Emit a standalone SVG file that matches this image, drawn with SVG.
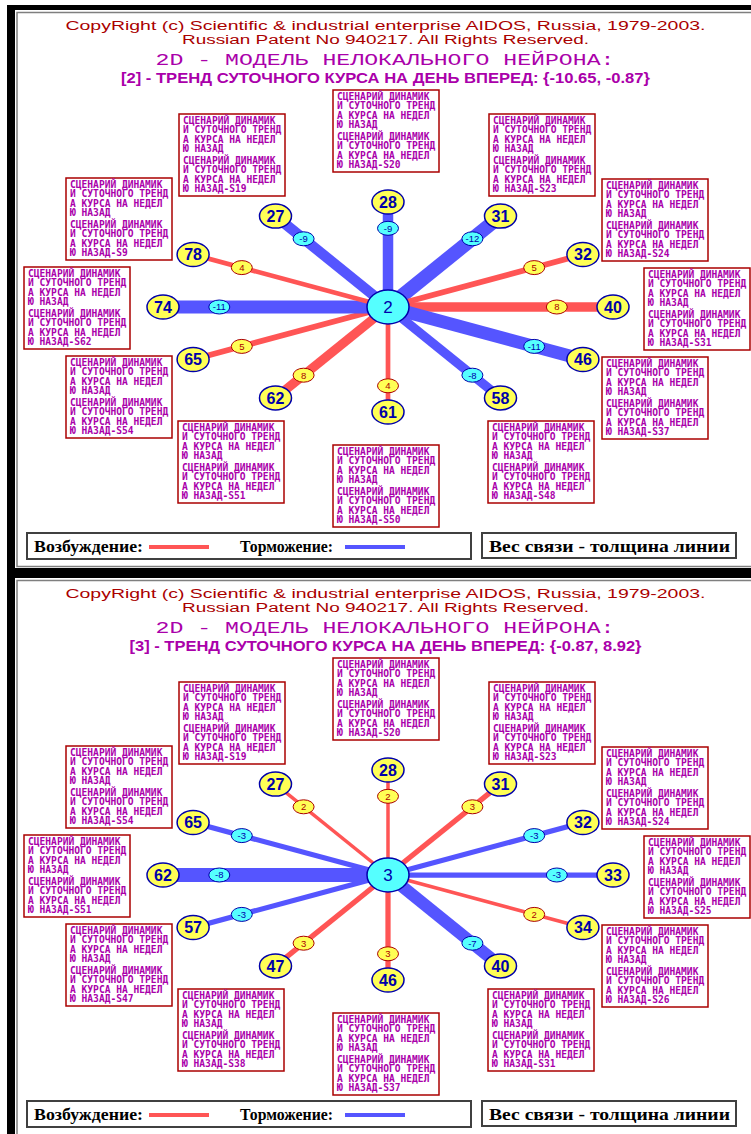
<svg xmlns="http://www.w3.org/2000/svg" width="751" height="1134" viewBox="0 0 751 1134">
<style>
.t1{font-family:"Liberation Sans",Arial,sans-serif;font-size:12.5px;fill:#AA0000;text-anchor:middle}
.t3{font-family:"Liberation Mono","Courier New",monospace;font-size:17px;fill:#AA00AA;text-anchor:middle}
.t4{font-family:"Liberation Sans",Arial,sans-serif;font-weight:bold;font-size:14px;fill:#AA00AA;text-anchor:middle}
.box rect{fill:#fff;stroke:#AA0000;stroke-width:1.5}
.bt{font-family:"DejaVu Sans Mono","Liberation Mono",monospace;font-weight:bold;font-size:9.6px;fill:#AA00AA}
.node ellipse{fill:#FFFF55;stroke:#0000AA;stroke-width:1.5}
.nt{font-family:"Liberation Sans",Arial,sans-serif;font-weight:bold;font-size:16px;fill:#0000AA;text-anchor:middle}
.ctr ellipse{fill:#55FFFF;stroke:#0000AA;stroke-width:1.5}
.ct{font-family:"Liberation Sans",Arial,sans-serif;font-size:17px;fill:#0000AA;text-anchor:middle}
.ex{stroke:#FF5555;fill:none}
.in{stroke:#5555FF;fill:none}
.wr{fill:#FFFF55;stroke:#AA0000;stroke-width:1}
.wb{fill:#55FFFF;stroke:#0000AA;stroke-width:1}
.wtr{font-family:"Liberation Sans",Arial,sans-serif;font-size:9.5px;fill:#AA0000;text-anchor:middle}
.wtb{font-family:"Liberation Sans",Arial,sans-serif;font-size:9.5px;fill:#0000AA;text-anchor:middle}
.lgb{fill:#fff;stroke:#404040;stroke-width:2}
.lg{font-family:"Liberation Serif","Times New Roman",serif;font-weight:bold;font-size:17px;fill:#000}
.fl{stroke:#7f7f7f;stroke-width:1.5;fill:none}
</style>
<rect width="751" height="1134" fill="#fff"/>
<g id="frames">
<rect x="7" y="5" width="744" height="1129" fill="#000"/>
<rect x="15" y="10" width="736" height="558" fill="#fff"/>
<polyline class="fl" points="751,12.5 17,12.5 17,566.5 751,566.5"/>
<rect x="15" y="578" width="736" height="556" fill="#fff"/>
<polyline class="fl" points="751,580.5 17,580.5 17,1134"/>
</g>

<g id="panel1">
<g id="p1-title">
<text class="t1" x="385.5" y="29.5" textLength="640" lengthAdjust="spacingAndGlyphs">CopyRight (c) Scientific &amp; industrial enterprise AIDOS, Russia, 1979-2003.</text>
<text class="t1" x="385.5" y="43.5" textLength="407" lengthAdjust="spacingAndGlyphs">Russian Patent No 940217. All Rights Reserved.</text>
<text class="t3" x="385" y="65" textLength="459" lengthAdjust="spacingAndGlyphs">2D - МОДЕЛЬ НЕЛОКАЛЬНОГО НЕЙРОНА:</text>
<text class="t4" x="385.5" y="82.7" textLength="529" lengthAdjust="spacingAndGlyphs">[2] - ТРЕНД СУТОЧНОГО КУРСА НА ДЕНЬ ВПЕРЕД: {-10.65, -0.87}</text>
</g>

<g id="p1-box-s20" class="box" transform="translate(333,90)"><rect width="106" height="82"/><text class="bt"><tspan x="4" y="10">СЦЕНАРИЙ ДИНАМИК</tspan><tspan x="4" y="19.4">И СУТОЧНОГО ТРЕНД</tspan><tspan x="4" y="28.8">А КУРСА НА НЕДЕЛ</tspan><tspan x="4" y="38.2">Ю НАЗАД</tspan><tspan x="4" y="50">СЦЕНАРИЙ ДИНАМИК</tspan><tspan x="4" y="59.4">И СУТОЧНОГО ТРЕНД</tspan><tspan x="4" y="68.8">А КУРСА НА НЕДЕЛ</tspan><tspan x="4" y="78.2">Ю НАЗАД-S20</tspan></text></g>
<g id="p1-box-s19" class="box" transform="translate(179,114)"><rect width="106" height="82"/><text class="bt"><tspan x="4" y="10">СЦЕНАРИЙ ДИНАМИК</tspan><tspan x="4" y="19.4">И СУТОЧНОГО ТРЕНД</tspan><tspan x="4" y="28.8">А КУРСА НА НЕДЕЛ</tspan><tspan x="4" y="38.2">Ю НАЗАД</tspan><tspan x="4" y="50">СЦЕНАРИЙ ДИНАМИК</tspan><tspan x="4" y="59.4">И СУТОЧНОГО ТРЕНД</tspan><tspan x="4" y="68.8">А КУРСА НА НЕДЕЛ</tspan><tspan x="4" y="78.2">Ю НАЗАД-S19</tspan></text></g>
<g id="p1-box-s23" class="box" transform="translate(489,114)"><rect width="106" height="82"/><text class="bt"><tspan x="4" y="10">СЦЕНАРИЙ ДИНАМИК</tspan><tspan x="4" y="19.4">И СУТОЧНОГО ТРЕНД</tspan><tspan x="4" y="28.8">А КУРСА НА НЕДЕЛ</tspan><tspan x="4" y="38.2">Ю НАЗАД</tspan><tspan x="4" y="50">СЦЕНАРИЙ ДИНАМИК</tspan><tspan x="4" y="59.4">И СУТОЧНОГО ТРЕНД</tspan><tspan x="4" y="68.8">А КУРСА НА НЕДЕЛ</tspan><tspan x="4" y="78.2">Ю НАЗАД-S23</tspan></text></g>
<g id="p1-box-s9" class="box" transform="translate(66,178)"><rect width="106" height="82"/><text class="bt"><tspan x="4" y="10">СЦЕНАРИЙ ДИНАМИК</tspan><tspan x="4" y="19.4">И СУТОЧНОГО ТРЕНД</tspan><tspan x="4" y="28.8">А КУРСА НА НЕДЕЛ</tspan><tspan x="4" y="38.2">Ю НАЗАД</tspan><tspan x="4" y="50">СЦЕНАРИЙ ДИНАМИК</tspan><tspan x="4" y="59.4">И СУТОЧНОГО ТРЕНД</tspan><tspan x="4" y="68.8">А КУРСА НА НЕДЕЛ</tspan><tspan x="4" y="78.2">Ю НАЗАД-S9</tspan></text></g>
<g id="p1-box-s24" class="box" transform="translate(602,179)"><rect width="106" height="82"/><text class="bt"><tspan x="4" y="10">СЦЕНАРИЙ ДИНАМИК</tspan><tspan x="4" y="19.4">И СУТОЧНОГО ТРЕНД</tspan><tspan x="4" y="28.8">А КУРСА НА НЕДЕЛ</tspan><tspan x="4" y="38.2">Ю НАЗАД</tspan><tspan x="4" y="50">СЦЕНАРИЙ ДИНАМИК</tspan><tspan x="4" y="59.4">И СУТОЧНОГО ТРЕНД</tspan><tspan x="4" y="68.8">А КУРСА НА НЕДЕЛ</tspan><tspan x="4" y="78.2">Ю НАЗАД-S24</tspan></text></g>
<g id="p1-box-s62" class="box" transform="translate(24,267)"><rect width="106" height="82"/><text class="bt"><tspan x="4" y="10">СЦЕНАРИЙ ДИНАМИК</tspan><tspan x="4" y="19.4">И СУТОЧНОГО ТРЕНД</tspan><tspan x="4" y="28.8">А КУРСА НА НЕДЕЛ</tspan><tspan x="4" y="38.2">Ю НАЗАД</tspan><tspan x="4" y="50">СЦЕНАРИЙ ДИНАМИК</tspan><tspan x="4" y="59.4">И СУТОЧНОГО ТРЕНД</tspan><tspan x="4" y="68.8">А КУРСА НА НЕДЕЛ</tspan><tspan x="4" y="78.2">Ю НАЗАД-S62</tspan></text></g>
<g id="p1-box-s31" class="box" transform="translate(644,268)"><rect width="106" height="82"/><text class="bt"><tspan x="4" y="10">СЦЕНАРИЙ ДИНАМИК</tspan><tspan x="4" y="19.4">И СУТОЧНОГО ТРЕНД</tspan><tspan x="4" y="28.8">А КУРСА НА НЕДЕЛ</tspan><tspan x="4" y="38.2">Ю НАЗАД</tspan><tspan x="4" y="50">СЦЕНАРИЙ ДИНАМИК</tspan><tspan x="4" y="59.4">И СУТОЧНОГО ТРЕНД</tspan><tspan x="4" y="68.8">А КУРСА НА НЕДЕЛ</tspan><tspan x="4" y="78.2">Ю НАЗАД-S31</tspan></text></g>
<g id="p1-box-s54" class="box" transform="translate(66,356)"><rect width="106" height="82"/><text class="bt"><tspan x="4" y="10">СЦЕНАРИЙ ДИНАМИК</tspan><tspan x="4" y="19.4">И СУТОЧНОГО ТРЕНД</tspan><tspan x="4" y="28.8">А КУРСА НА НЕДЕЛ</tspan><tspan x="4" y="38.2">Ю НАЗАД</tspan><tspan x="4" y="50">СЦЕНАРИЙ ДИНАМИК</tspan><tspan x="4" y="59.4">И СУТОЧНОГО ТРЕНД</tspan><tspan x="4" y="68.8">А КУРСА НА НЕДЕЛ</tspan><tspan x="4" y="78.2">Ю НАЗАД-S54</tspan></text></g>
<g id="p1-box-s37" class="box" transform="translate(602,357)"><rect width="106" height="82"/><text class="bt"><tspan x="4" y="10">СЦЕНАРИЙ ДИНАМИК</tspan><tspan x="4" y="19.4">И СУТОЧНОГО ТРЕНД</tspan><tspan x="4" y="28.8">А КУРСА НА НЕДЕЛ</tspan><tspan x="4" y="38.2">Ю НАЗАД</tspan><tspan x="4" y="50">СЦЕНАРИЙ ДИНАМИК</tspan><tspan x="4" y="59.4">И СУТОЧНОГО ТРЕНД</tspan><tspan x="4" y="68.8">А КУРСА НА НЕДЕЛ</tspan><tspan x="4" y="78.2">Ю НАЗАД-S37</tspan></text></g>
<g id="p1-box-s51" class="box" transform="translate(178,421)"><rect width="106" height="82"/><text class="bt"><tspan x="4" y="10">СЦЕНАРИЙ ДИНАМИК</tspan><tspan x="4" y="19.4">И СУТОЧНОГО ТРЕНД</tspan><tspan x="4" y="28.8">А КУРСА НА НЕДЕЛ</tspan><tspan x="4" y="38.2">Ю НАЗАД</tspan><tspan x="4" y="50">СЦЕНАРИЙ ДИНАМИК</tspan><tspan x="4" y="59.4">И СУТОЧНОГО ТРЕНД</tspan><tspan x="4" y="68.8">А КУРСА НА НЕДЕЛ</tspan><tspan x="4" y="78.2">Ю НАЗАД-S51</tspan></text></g>
<g id="p1-box-s48" class="box" transform="translate(488,421)"><rect width="106" height="82"/><text class="bt"><tspan x="4" y="10">СЦЕНАРИЙ ДИНАМИК</tspan><tspan x="4" y="19.4">И СУТОЧНОГО ТРЕНД</tspan><tspan x="4" y="28.8">А КУРСА НА НЕДЕЛ</tspan><tspan x="4" y="38.2">Ю НАЗАД</tspan><tspan x="4" y="50">СЦЕНАРИЙ ДИНАМИК</tspan><tspan x="4" y="59.4">И СУТОЧНОГО ТРЕНД</tspan><tspan x="4" y="68.8">А КУРСА НА НЕДЕЛ</tspan><tspan x="4" y="78.2">Ю НАЗАД-S48</tspan></text></g>
<g id="p1-box-s50" class="box" transform="translate(333,445)"><rect width="106" height="82"/><text class="bt"><tspan x="4" y="10">СЦЕНАРИЙ ДИНАМИК</tspan><tspan x="4" y="19.4">И СУТОЧНОГО ТРЕНД</tspan><tspan x="4" y="28.8">А КУРСА НА НЕДЕЛ</tspan><tspan x="4" y="38.2">Ю НАЗАД</tspan><tspan x="4" y="50">СЦЕНАРИЙ ДИНАМИК</tspan><tspan x="4" y="59.4">И СУТОЧНОГО ТРЕНД</tspan><tspan x="4" y="68.8">А КУРСА НА НЕДЕЛ</tspan><tspan x="4" y="78.2">Ю НАЗАД-S50</tspan></text></g>

<g id="p1-connectors">
<line class="in" x1="388" y1="307" x2="388" y2="202" stroke-width="10.5"/>
<line class="in" x1="388" y1="307" x2="500.5" y2="216.1" stroke-width="14"/>
<line class="ex" x1="388" y1="307" x2="582.9" y2="254.5" stroke-width="5.8"/>
<line class="ex" x1="388" y1="307" x2="613" y2="307" stroke-width="9.3"/>
<line class="in" x1="388" y1="307" x2="582.9" y2="359.5" stroke-width="12.8"/>
<line class="in" x1="388" y1="307" x2="500.5" y2="397.9" stroke-width="9.3"/>
<line class="ex" x1="388" y1="307" x2="388" y2="412" stroke-width="4.7"/>
<line class="ex" x1="388" y1="307" x2="275.5" y2="397.9" stroke-width="9.3"/>
<line class="ex" x1="388" y1="307" x2="193.1" y2="359.5" stroke-width="5.8"/>
<line class="in" x1="388" y1="307" x2="163" y2="307" stroke-width="12.8"/>
<line class="ex" x1="388" y1="307" x2="193.1" y2="254.5" stroke-width="4.7"/>
<line class="in" x1="388" y1="307" x2="275.5" y2="216.1" stroke-width="10.5"/>
<ellipse class="wb" cx="388" cy="228.3" rx="10.5" ry="7"/><text class="wtb" x="388" y="231.7">-9</text>
<ellipse class="wb" cx="472.4" cy="238.8" rx="10.5" ry="7"/><text class="wtb" x="472.4" y="242.2">-12</text>
<ellipse class="wr" cx="534.2" cy="267.6" rx="10.5" ry="7"/><text class="wtr" x="534.2" y="271">5</text>
<ellipse class="wr" cx="556.8" cy="307" rx="10.5" ry="7"/><text class="wtr" x="556.8" y="310.4">8</text>
<ellipse class="wb" cx="534.2" cy="346.4" rx="10.5" ry="7"/><text class="wtb" x="534.2" y="349.8">-11</text>
<ellipse class="wb" cx="472.4" cy="375.2" rx="10.5" ry="7"/><text class="wtb" x="472.4" y="378.6">-8</text>
<ellipse class="wr" cx="388" cy="385.8" rx="10.5" ry="7"/><text class="wtr" x="388" y="389.2">4</text>
<ellipse class="wr" cx="303.6" cy="375.2" rx="10.5" ry="7"/><text class="wtr" x="303.6" y="378.6">8</text>
<ellipse class="wr" cx="241.8" cy="346.4" rx="10.5" ry="7"/><text class="wtr" x="241.8" y="349.8">5</text>
<ellipse class="wb" cx="219.3" cy="307" rx="10.5" ry="7"/><text class="wtb" x="219.3" y="310.4">-11</text>
<ellipse class="wr" cx="241.8" cy="267.6" rx="10.5" ry="7"/><text class="wtr" x="241.8" y="271">4</text>
<ellipse class="wb" cx="303.6" cy="238.8" rx="10.5" ry="7"/><text class="wtb" x="303.6" y="242.2">-9</text>
</g>

<g id="p1-n2" class="ctr"><ellipse cx="388" cy="307" rx="21" ry="17"/><text class="ct" x="388" y="313">2</text></g>
<g id="p1-n28" class="node"><ellipse cx="388" cy="202" rx="16" ry="12"/><text class="nt" x="388" y="207.8">28</text></g>
<g id="p1-n31" class="node"><ellipse cx="500.5" cy="216.1" rx="16" ry="12"/><text class="nt" x="500.5" y="221.9">31</text></g>
<g id="p1-n32" class="node"><ellipse cx="582.9" cy="254.5" rx="16" ry="12"/><text class="nt" x="582.9" y="260.3">32</text></g>
<g id="p1-n40" class="node"><ellipse cx="613" cy="307" rx="16" ry="12"/><text class="nt" x="613" y="312.8">40</text></g>
<g id="p1-n46" class="node"><ellipse cx="582.9" cy="359.5" rx="16" ry="12"/><text class="nt" x="582.9" y="365.3">46</text></g>
<g id="p1-n58" class="node"><ellipse cx="500.5" cy="397.9" rx="16" ry="12"/><text class="nt" x="500.5" y="403.7">58</text></g>
<g id="p1-n61" class="node"><ellipse cx="388" cy="412" rx="16" ry="12"/><text class="nt" x="388" y="417.8">61</text></g>
<g id="p1-n62" class="node"><ellipse cx="275.5" cy="397.9" rx="16" ry="12"/><text class="nt" x="275.5" y="403.7">62</text></g>
<g id="p1-n65" class="node"><ellipse cx="193.1" cy="359.5" rx="16" ry="12"/><text class="nt" x="193.1" y="365.3">65</text></g>
<g id="p1-n74" class="node"><ellipse cx="163" cy="307" rx="16" ry="12"/><text class="nt" x="163" y="312.8">74</text></g>
<g id="p1-n78" class="node"><ellipse cx="193.1" cy="254.5" rx="16" ry="12"/><text class="nt" x="193.1" y="260.3">78</text></g>
<g id="p1-n27" class="node"><ellipse cx="275.5" cy="216.1" rx="16" ry="12"/><text class="nt" x="275.5" y="221.9">27</text></g>

<g id="p1-legend">
<rect class="lgb" x="27" y="533" width="444" height="26"/>
<text class="lg" x="34" y="552" textLength="109" lengthAdjust="spacingAndGlyphs">Возбуждение:</text>
<line x1="149" y1="547" x2="209" y2="547" stroke="#FF5555" stroke-width="4"/>
<text class="lg" x="240" y="552" textLength="93" lengthAdjust="spacingAndGlyphs">Торможение:</text>
<line x1="345" y1="547" x2="405" y2="547" stroke="#5555FF" stroke-width="4"/>
<rect class="lgb" x="482" y="533" width="254" height="25"/>
<text class="lg" x="489" y="552" textLength="241" lengthAdjust="spacingAndGlyphs">Вес связи - толщина линии</text>
</g>
</g>

<g id="panel2" transform="translate(0,568)">
<g id="p2-title">
<text class="t1" x="385.5" y="29.5" textLength="640" lengthAdjust="spacingAndGlyphs">CopyRight (c) Scientific &amp; industrial enterprise AIDOS, Russia, 1979-2003.</text>
<text class="t1" x="385.5" y="43.5" textLength="407" lengthAdjust="spacingAndGlyphs">Russian Patent No 940217. All Rights Reserved.</text>
<text class="t3" x="385" y="65" textLength="459" lengthAdjust="spacingAndGlyphs">2D - МОДЕЛЬ НЕЛОКАЛЬНОГО НЕЙРОНА:</text>
<text class="t4" x="385.5" y="82.7" textLength="512" lengthAdjust="spacingAndGlyphs">[3] - ТРЕНД СУТОЧНОГО КУРСА НА ДЕНЬ ВПЕРЕД: {-0.87, 8.92}</text>
</g>

<g id="p2-box-s20" class="box" transform="translate(333,90)"><rect width="106" height="82"/><text class="bt"><tspan x="4" y="10">СЦЕНАРИЙ ДИНАМИК</tspan><tspan x="4" y="19.4">И СУТОЧНОГО ТРЕНД</tspan><tspan x="4" y="28.8">А КУРСА НА НЕДЕЛ</tspan><tspan x="4" y="38.2">Ю НАЗАД</tspan><tspan x="4" y="50">СЦЕНАРИЙ ДИНАМИК</tspan><tspan x="4" y="59.4">И СУТОЧНОГО ТРЕНД</tspan><tspan x="4" y="68.8">А КУРСА НА НЕДЕЛ</tspan><tspan x="4" y="78.2">Ю НАЗАД-S20</tspan></text></g>
<g id="p2-box-s19" class="box" transform="translate(179,114)"><rect width="106" height="82"/><text class="bt"><tspan x="4" y="10">СЦЕНАРИЙ ДИНАМИК</tspan><tspan x="4" y="19.4">И СУТОЧНОГО ТРЕНД</tspan><tspan x="4" y="28.8">А КУРСА НА НЕДЕЛ</tspan><tspan x="4" y="38.2">Ю НАЗАД</tspan><tspan x="4" y="50">СЦЕНАРИЙ ДИНАМИК</tspan><tspan x="4" y="59.4">И СУТОЧНОГО ТРЕНД</tspan><tspan x="4" y="68.8">А КУРСА НА НЕДЕЛ</tspan><tspan x="4" y="78.2">Ю НАЗАД-S19</tspan></text></g>
<g id="p2-box-s23" class="box" transform="translate(489,114)"><rect width="106" height="82"/><text class="bt"><tspan x="4" y="10">СЦЕНАРИЙ ДИНАМИК</tspan><tspan x="4" y="19.4">И СУТОЧНОГО ТРЕНД</tspan><tspan x="4" y="28.8">А КУРСА НА НЕДЕЛ</tspan><tspan x="4" y="38.2">Ю НАЗАД</tspan><tspan x="4" y="50">СЦЕНАРИЙ ДИНАМИК</tspan><tspan x="4" y="59.4">И СУТОЧНОГО ТРЕНД</tspan><tspan x="4" y="68.8">А КУРСА НА НЕДЕЛ</tspan><tspan x="4" y="78.2">Ю НАЗАД-S23</tspan></text></g>
<g id="p2-box-s54" class="box" transform="translate(66,178)"><rect width="106" height="82"/><text class="bt"><tspan x="4" y="10">СЦЕНАРИЙ ДИНАМИК</tspan><tspan x="4" y="19.4">И СУТОЧНОГО ТРЕНД</tspan><tspan x="4" y="28.8">А КУРСА НА НЕДЕЛ</tspan><tspan x="4" y="38.2">Ю НАЗАД</tspan><tspan x="4" y="50">СЦЕНАРИЙ ДИНАМИК</tspan><tspan x="4" y="59.4">И СУТОЧНОГО ТРЕНД</tspan><tspan x="4" y="68.8">А КУРСА НА НЕДЕЛ</tspan><tspan x="4" y="78.2">Ю НАЗАД-S54</tspan></text></g>
<g id="p2-box-s24" class="box" transform="translate(602,179)"><rect width="106" height="82"/><text class="bt"><tspan x="4" y="10">СЦЕНАРИЙ ДИНАМИК</tspan><tspan x="4" y="19.4">И СУТОЧНОГО ТРЕНД</tspan><tspan x="4" y="28.8">А КУРСА НА НЕДЕЛ</tspan><tspan x="4" y="38.2">Ю НАЗАД</tspan><tspan x="4" y="50">СЦЕНАРИЙ ДИНАМИК</tspan><tspan x="4" y="59.4">И СУТОЧНОГО ТРЕНД</tspan><tspan x="4" y="68.8">А КУРСА НА НЕДЕЛ</tspan><tspan x="4" y="78.2">Ю НАЗАД-S24</tspan></text></g>
<g id="p2-box-s51" class="box" transform="translate(24,267)"><rect width="106" height="82"/><text class="bt"><tspan x="4" y="10">СЦЕНАРИЙ ДИНАМИК</tspan><tspan x="4" y="19.4">И СУТОЧНОГО ТРЕНД</tspan><tspan x="4" y="28.8">А КУРСА НА НЕДЕЛ</tspan><tspan x="4" y="38.2">Ю НАЗАД</tspan><tspan x="4" y="50">СЦЕНАРИЙ ДИНАМИК</tspan><tspan x="4" y="59.4">И СУТОЧНОГО ТРЕНД</tspan><tspan x="4" y="68.8">А КУРСА НА НЕДЕЛ</tspan><tspan x="4" y="78.2">Ю НАЗАД-S51</tspan></text></g>
<g id="p2-box-s25" class="box" transform="translate(644,268)"><rect width="106" height="82"/><text class="bt"><tspan x="4" y="10">СЦЕНАРИЙ ДИНАМИК</tspan><tspan x="4" y="19.4">И СУТОЧНОГО ТРЕНД</tspan><tspan x="4" y="28.8">А КУРСА НА НЕДЕЛ</tspan><tspan x="4" y="38.2">Ю НАЗАД</tspan><tspan x="4" y="50">СЦЕНАРИЙ ДИНАМИК</tspan><tspan x="4" y="59.4">И СУТОЧНОГО ТРЕНД</tspan><tspan x="4" y="68.8">А КУРСА НА НЕДЕЛ</tspan><tspan x="4" y="78.2">Ю НАЗАД-S25</tspan></text></g>
<g id="p2-box-s47" class="box" transform="translate(66,356)"><rect width="106" height="82"/><text class="bt"><tspan x="4" y="10">СЦЕНАРИЙ ДИНАМИК</tspan><tspan x="4" y="19.4">И СУТОЧНОГО ТРЕНД</tspan><tspan x="4" y="28.8">А КУРСА НА НЕДЕЛ</tspan><tspan x="4" y="38.2">Ю НАЗАД</tspan><tspan x="4" y="50">СЦЕНАРИЙ ДИНАМИК</tspan><tspan x="4" y="59.4">И СУТОЧНОГО ТРЕНД</tspan><tspan x="4" y="68.8">А КУРСА НА НЕДЕЛ</tspan><tspan x="4" y="78.2">Ю НАЗАД-S47</tspan></text></g>
<g id="p2-box-s26" class="box" transform="translate(602,357)"><rect width="106" height="82"/><text class="bt"><tspan x="4" y="10">СЦЕНАРИЙ ДИНАМИК</tspan><tspan x="4" y="19.4">И СУТОЧНОГО ТРЕНД</tspan><tspan x="4" y="28.8">А КУРСА НА НЕДЕЛ</tspan><tspan x="4" y="38.2">Ю НАЗАД</tspan><tspan x="4" y="50">СЦЕНАРИЙ ДИНАМИК</tspan><tspan x="4" y="59.4">И СУТОЧНОГО ТРЕНД</tspan><tspan x="4" y="68.8">А КУРСА НА НЕДЕЛ</tspan><tspan x="4" y="78.2">Ю НАЗАД-S26</tspan></text></g>
<g id="p2-box-s38" class="box" transform="translate(178,421)"><rect width="106" height="82"/><text class="bt"><tspan x="4" y="10">СЦЕНАРИЙ ДИНАМИК</tspan><tspan x="4" y="19.4">И СУТОЧНОГО ТРЕНД</tspan><tspan x="4" y="28.8">А КУРСА НА НЕДЕЛ</tspan><tspan x="4" y="38.2">Ю НАЗАД</tspan><tspan x="4" y="50">СЦЕНАРИЙ ДИНАМИК</tspan><tspan x="4" y="59.4">И СУТОЧНОГО ТРЕНД</tspan><tspan x="4" y="68.8">А КУРСА НА НЕДЕЛ</tspan><tspan x="4" y="78.2">Ю НАЗАД-S38</tspan></text></g>
<g id="p2-box-s31" class="box" transform="translate(488,421)"><rect width="106" height="82"/><text class="bt"><tspan x="4" y="10">СЦЕНАРИЙ ДИНАМИК</tspan><tspan x="4" y="19.4">И СУТОЧНОГО ТРЕНД</tspan><tspan x="4" y="28.8">А КУРСА НА НЕДЕЛ</tspan><tspan x="4" y="38.2">Ю НАЗАД</tspan><tspan x="4" y="50">СЦЕНАРИЙ ДИНАМИК</tspan><tspan x="4" y="59.4">И СУТОЧНОГО ТРЕНД</tspan><tspan x="4" y="68.8">А КУРСА НА НЕДЕЛ</tspan><tspan x="4" y="78.2">Ю НАЗАД-S31</tspan></text></g>
<g id="p2-box-s37" class="box" transform="translate(333,445)"><rect width="106" height="82"/><text class="bt"><tspan x="4" y="10">СЦЕНАРИЙ ДИНАМИК</tspan><tspan x="4" y="19.4">И СУТОЧНОГО ТРЕНД</tspan><tspan x="4" y="28.8">А КУРСА НА НЕДЕЛ</tspan><tspan x="4" y="38.2">Ю НАЗАД</tspan><tspan x="4" y="50">СЦЕНАРИЙ ДИНАМИК</tspan><tspan x="4" y="59.4">И СУТОЧНОГО ТРЕНД</tspan><tspan x="4" y="68.8">А КУРСА НА НЕДЕЛ</tspan><tspan x="4" y="78.2">Ю НАЗАД-S37</tspan></text></g>

<g id="p2-connectors">
<line class="ex" x1="388" y1="307" x2="388" y2="202" stroke-width="3.5"/>
<line class="ex" x1="388" y1="307" x2="500.5" y2="216.1" stroke-width="5.25"/>
<line class="in" x1="388" y1="307" x2="582.9" y2="254.5" stroke-width="5.25"/>
<line class="in" x1="388" y1="307" x2="613" y2="307" stroke-width="5.25"/>
<line class="ex" x1="388" y1="307" x2="582.9" y2="359.5" stroke-width="3.5"/>
<line class="in" x1="388" y1="307" x2="500.5" y2="397.9" stroke-width="12.25"/>
<line class="ex" x1="388" y1="307" x2="388" y2="412" stroke-width="5.25"/>
<line class="ex" x1="388" y1="307" x2="275.5" y2="397.9" stroke-width="5.25"/>
<line class="in" x1="388" y1="307" x2="193.1" y2="359.5" stroke-width="5.25"/>
<line class="in" x1="388" y1="307" x2="163" y2="307" stroke-width="14"/>
<line class="in" x1="388" y1="307" x2="193.1" y2="254.5" stroke-width="5.25"/>
<line class="ex" x1="388" y1="307" x2="275.5" y2="216.1" stroke-width="3.5"/>
<ellipse class="wr" cx="388" cy="228.3" rx="10.5" ry="7"/><text class="wtr" x="388" y="231.7">2</text>
<ellipse class="wr" cx="472.4" cy="238.8" rx="10.5" ry="7"/><text class="wtr" x="472.4" y="242.2">3</text>
<ellipse class="wb" cx="534.2" cy="267.6" rx="10.5" ry="7"/><text class="wtb" x="534.2" y="271">-3</text>
<ellipse class="wb" cx="556.8" cy="307" rx="10.5" ry="7"/><text class="wtb" x="556.8" y="310.4">-3</text>
<ellipse class="wr" cx="534.2" cy="346.4" rx="10.5" ry="7"/><text class="wtr" x="534.2" y="349.8">2</text>
<ellipse class="wb" cx="472.4" cy="375.2" rx="10.5" ry="7"/><text class="wtb" x="472.4" y="378.6">-7</text>
<ellipse class="wr" cx="388" cy="385.8" rx="10.5" ry="7"/><text class="wtr" x="388" y="389.2">3</text>
<ellipse class="wr" cx="303.6" cy="375.2" rx="10.5" ry="7"/><text class="wtr" x="303.6" y="378.6">3</text>
<ellipse class="wb" cx="241.8" cy="346.4" rx="10.5" ry="7"/><text class="wtb" x="241.8" y="349.8">-3</text>
<ellipse class="wb" cx="219.3" cy="307" rx="10.5" ry="7"/><text class="wtb" x="219.3" y="310.4">-8</text>
<ellipse class="wb" cx="241.8" cy="267.6" rx="10.5" ry="7"/><text class="wtb" x="241.8" y="271">-3</text>
<ellipse class="wr" cx="303.6" cy="238.8" rx="10.5" ry="7"/><text class="wtr" x="303.6" y="242.2">2</text>
</g>

<g id="p2-n3" class="ctr"><ellipse cx="388" cy="307" rx="21" ry="17"/><text class="ct" x="388" y="313">3</text></g>
<g id="p2-n28" class="node"><ellipse cx="388" cy="202" rx="16" ry="12"/><text class="nt" x="388" y="207.8">28</text></g>
<g id="p2-n31" class="node"><ellipse cx="500.5" cy="216.1" rx="16" ry="12"/><text class="nt" x="500.5" y="221.9">31</text></g>
<g id="p2-n32" class="node"><ellipse cx="582.9" cy="254.5" rx="16" ry="12"/><text class="nt" x="582.9" y="260.3">32</text></g>
<g id="p2-n33" class="node"><ellipse cx="613" cy="307" rx="16" ry="12"/><text class="nt" x="613" y="312.8">33</text></g>
<g id="p2-n34" class="node"><ellipse cx="582.9" cy="359.5" rx="16" ry="12"/><text class="nt" x="582.9" y="365.3">34</text></g>
<g id="p2-n40" class="node"><ellipse cx="500.5" cy="397.9" rx="16" ry="12"/><text class="nt" x="500.5" y="403.7">40</text></g>
<g id="p2-n46" class="node"><ellipse cx="388" cy="412" rx="16" ry="12"/><text class="nt" x="388" y="417.8">46</text></g>
<g id="p2-n47" class="node"><ellipse cx="275.5" cy="397.9" rx="16" ry="12"/><text class="nt" x="275.5" y="403.7">47</text></g>
<g id="p2-n57" class="node"><ellipse cx="193.1" cy="359.5" rx="16" ry="12"/><text class="nt" x="193.1" y="365.3">57</text></g>
<g id="p2-n62" class="node"><ellipse cx="163" cy="307" rx="16" ry="12"/><text class="nt" x="163" y="312.8">62</text></g>
<g id="p2-n65" class="node"><ellipse cx="193.1" cy="254.5" rx="16" ry="12"/><text class="nt" x="193.1" y="260.3">65</text></g>
<g id="p2-n27" class="node"><ellipse cx="275.5" cy="216.1" rx="16" ry="12"/><text class="nt" x="275.5" y="221.9">27</text></g>

<g id="p2-legend">
<rect class="lgb" x="27" y="533" width="444" height="26"/>
<text class="lg" x="34" y="552" textLength="109" lengthAdjust="spacingAndGlyphs">Возбуждение:</text>
<line x1="149" y1="547" x2="209" y2="547" stroke="#FF5555" stroke-width="4"/>
<text class="lg" x="240" y="552" textLength="93" lengthAdjust="spacingAndGlyphs">Торможение:</text>
<line x1="345" y1="547" x2="405" y2="547" stroke="#5555FF" stroke-width="4"/>
<rect class="lgb" x="482" y="533" width="254" height="25"/>
<text class="lg" x="489" y="552" textLength="241" lengthAdjust="spacingAndGlyphs">Вес связи - толщина линии</text>
</g>
</g>
</svg>
